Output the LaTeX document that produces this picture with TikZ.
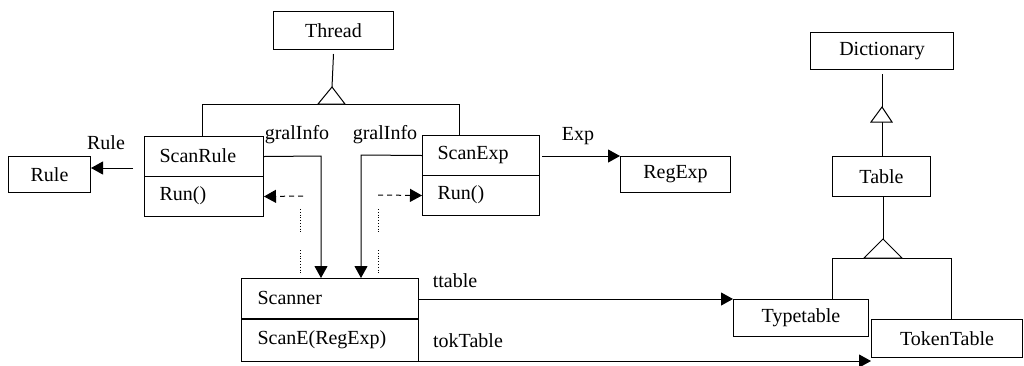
\documentclass[tikz,border=0pt]{standalone}
\usepackage{fontspec}
\setmainfont{Liberation Serif}
\usetikzlibrary{arrows.meta}
\begin{document}
\begin{tikzpicture}[x=1pt,y=-1pt,line width=1pt,
  box/.style={draw,inner sep=0pt,anchor=north west,font=\fontsize{20}{22}\selectfont},
  lbl/.style={inner sep=0pt,font=\fontsize{20}{22}\selectfont},
  arr/.style={-{Triangle[length=12pt,width=13pt]}},
  inh/.style={draw,fill=white,line join=miter}]
\useasboundingbox (0,0) rectangle (1024,365);
% boxes
\node[box,minimum width=120pt,minimum height=38pt] (thr) at (273,11) {Thread};
\node[box,minimum width=82pt,minimum height=36pt] (rule) at (8,156) {Rule};
\node[box,minimum width=110pt,minimum height=36pt] (rex) at (620,156) {RegExp};
\node[box,minimum width=143pt,minimum height=37pt] (dic) at (810,32) {Dictionary};
\node[box,minimum width=98pt,minimum height=40pt] (tab) at (832,156) {Table};
\node[box,minimum width=135pt,minimum height=37pt] (typ) at (733,299) {Typetable};
\node[box,minimum width=151pt,minimum height=38pt] (tok) at (871,319) {TokenTable};
% compartment classes
\node[box,minimum width=119pt,minimum height=40pt] (sr) at (144,136) {};
\node[lbl,anchor=west] (srt) at (159,156) {ScanRule};
\node[box,minimum width=119pt,minimum height=40pt] (srrun) at (144,176) {};
\node[lbl,anchor=west] (srrunt) at (159,196) {Run()};
\node[box,minimum width=117pt,minimum height=40pt] (se) at (422,135) {};
\node[lbl,anchor=west] (set) at (437,155) {ScanExp};
\node[box,minimum width=117pt,minimum height=40pt] (serun) at (422,175) {};
\node[lbl,anchor=west] (seruntt) at (437,195) {Run()};
\node[box,minimum width=177pt,minimum height=40pt] (sc) at (241,278) {};
\node[lbl,anchor=west] (sct) at (257,298) {Scanner};
\node[box,minimum width=177pt,minimum height=43pt] (scm) at (241,318) {};
\node[lbl,anchor=west] (scmt) at (257,340) {ScanE(RegExp)};
\draw[line width=2.2pt] (sc.south west) -- (sc.south east);
% labels
\node[lbl] (lrule) at (106,143) {Rule};
\node[lbl] (lexp) at (578,136) {Exp};
\node[lbl] (lg1) at (297,135) {gralInfo};
\node[lbl] (lg2) at (385,135) {gralInfo};
\node[lbl] (ltt) at (455,281) {ttable};
\node[lbl] (ltok) at (468,341) {tokTable};
% inheritance Thread
\coordinate (ta) at (332,87);
\coordinate (forkL) at (202,104);
\coordinate (forkR) at (459,104);
\draw ([yshift=-4pt]thr.south) -- (ta);
\draw (forkL) -- (forkR);
\draw (forkL) -- (forkL |- sr.north);
\draw (forkR) -- (forkR |- se.north);
\draw[inh] (318,104) -- (ta) -- (345,104) -- cycle;
% Rule association
\coordinate (rs) at (133,168);
\draw[arr] (rs) -- (rs -| rule.east);
% Exp association
\coordinate (es) at (542,156);
\draw[arr] (es) -- (rex.north west);
% gralInfo
\coordinate (g1) at (321,156);
\coordinate (g2) at (361,155);
\draw[arr] (sr.east) -- (g1) -- (g1 |- sc.north);
\draw[arr] (se.west) -- (g2) -- (g2 |- sc.north);
% dashed calls
\coordinate (d1) at (303,196);
\coordinate (d2) at (378,195);
\draw[arr,dash pattern=on 5pt off 4pt] (d1) -- (srrun.east);
\draw[arr,dash pattern=on 5pt off 4pt] (d2) -- (serun.west);
\coordinate (v1a) at (300,209); \coordinate (v1b) at (300,233);
\coordinate (v1c) at (300,250); \coordinate (v1d) at (300,274);
\coordinate (v2a) at (378,209); \coordinate (v2b) at (378,233);
\coordinate (v2c) at (378,250); \coordinate (v2d) at (378,274);
\draw[dotted,line width=0.8pt] (v1a) -- (v1b) (v1c) -- (v1d) (v2a) -- (v2b) (v2c) -- (v2d);
% ttable / tokTable
\coordinate (tts) at (418,299);
\draw[arr] (tts) -- (typ.north west);
\coordinate (tks) at (418,361);
\coordinate (tke) at (871,361);
\draw[arr] (tks) -- (tke);
% Dictionary <- Table
\coordinate (da) at (882,107);
\draw ([yshift=-4pt]dic.south -| da) -- (da);
\draw (882,122) -- (882,156);
\draw[inh] (871,122) -- (da) -- (892,122) -- cycle;
% Table <- Typetable, TokenTable
\coordinate (tapx) at (883,239);
\coordinate (tfL) at (832,258);
\coordinate (tfR) at (951,258);
\draw (tab.south -| tapx) -- (tapx);
\draw (tfL) -- (tfR);
\draw (tfL) -- (tfL |- typ.north);
\draw (tfR) -- (tfR |- tok.north);
\draw[inh] (864,258) -- (tapx) -- (902,258) -- cycle;
\end{tikzpicture}
\end{document}
